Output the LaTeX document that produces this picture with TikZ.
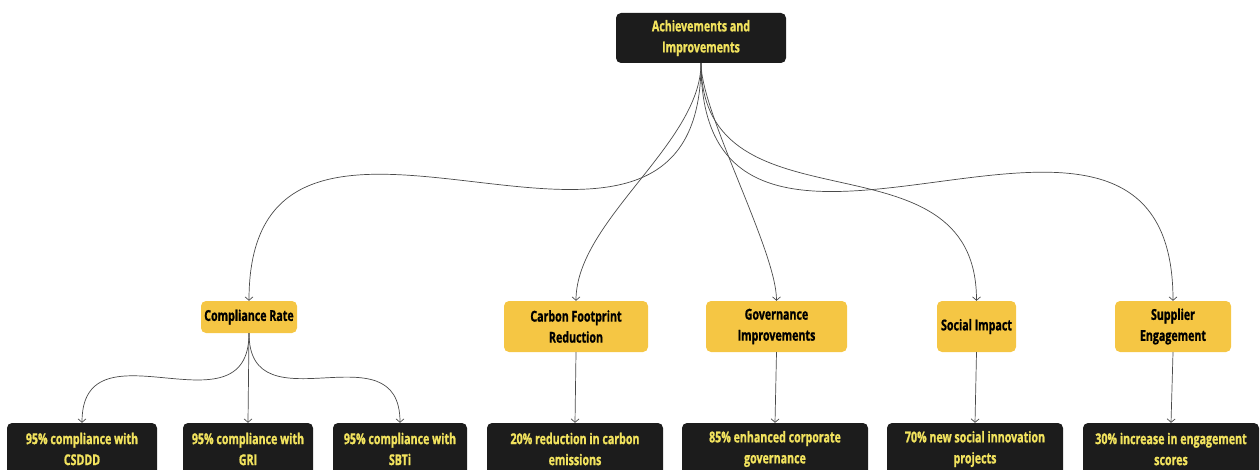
\documentclass[tikz,border=0pt]{standalone}
\usepackage{fontspec}
\setmainfont{Open Sans}[FakeStretch=0.71, BoldFeatures={FakeBold=1}]
\usetikzlibrary{arrows.meta}

\definecolor{boxblack}{HTML}{1C1C1C}
\definecolor{boxyellow}{HTML}{F5C644}
\definecolor{txtyellow}{HTML}{F2E35E}
\definecolor{linegray}{HTML}{4A4A4A}

\tikzset{
  darkbox/.style={fill=boxblack, text=txtyellow, rounded corners=5pt,
    align=center, inner sep=0pt, font=\bfseries\fontsize{15}{21}\selectfont},
  catbox/.style={fill=boxyellow, text=black, rounded corners=5pt,
    align=center, inner sep=0pt, font=\bfseries\fontsize{15}{21}\selectfont},
  link/.style={draw=linegray, line width=0.7pt,
    -{Straight Barb[length=3.5pt,width=8pt]}}
}

\begin{document}
\begin{tikzpicture}[x=1pt, y=-1pt]
\useasboundingbox (0,0) rectangle (1260,470);

% Racine
\node[darkbox, minimum width=170, minimum height=50] (root) at (701,38) {Achievements and\\Improvements};

% Catégories
\node[catbox, minimum width=96, minimum height=32] (comp) at (249,317) {Compliance Rate};
\node[catbox, minimum width=144, minimum height=51] (carbon) at (576,326.5) {Carbon Footprint\\Reduction};
\node[catbox, minimum width=141, minimum height=51] (gov) at (776.5,326.5) {Governance\\Improvements};
\node[catbox, minimum width=79, minimum height=51] (social) at (976.5,326.5) {Social Impact};
\node[catbox, minimum width=116, minimum height=51] (supp) at (1173,326.5) {Supplier\\Engagement};

% Résultats
\node[darkbox, minimum width=150, minimum height=52] (csddd) at (82,449) {95\% compliance with\\CSDDD};
\node[darkbox, minimum width=130, minimum height=52] (gri) at (248,449) {95\% compliance with\\GRI};
\node[darkbox, minimum width=134, minimum height=52] (sbti) at (400,449) {95\% compliance with\\SBTi};
\node[darkbox, minimum width=176, minimum height=52] (carbonres) at (575,449) {20\% reduction in carbon\\emissions};
\node[darkbox, minimum width=186, minimum height=52] (govres) at (775,449) {85\% enhanced corporate\\governance};
\node[darkbox, minimum width=176, minimum height=52] (socialres) at (975,449) {70\% new social innovation\\projects};
\node[darkbox, minimum width=176, minimum height=52] (suppres) at (1171,449) {30\% increase in engagement\\scores};

% Liens racine -> catégories
\foreach \t/\k in {comp/290, carbon/80, gov/50, social/176, supp/300}
  \draw[link] (root.south) .. controls +(0,\k) and +(0,-\k) .. (\t.north);

% Liens catégories -> résultats
\foreach \t/\k in {csddd/105, gri/45, sbti/97}
  \draw[link] (comp.south) .. controls +(0,\k) and +(0,-\k) .. (\t.north);
\draw[link] (carbon.south) -- (carbonres.north);
\draw[link] (gov.south) -- (govres.north);
\draw[link] (social.south) -- (socialres.north);
\draw[link] (supp.south) -- (suppres.north);
\end{tikzpicture}
\end{document}
